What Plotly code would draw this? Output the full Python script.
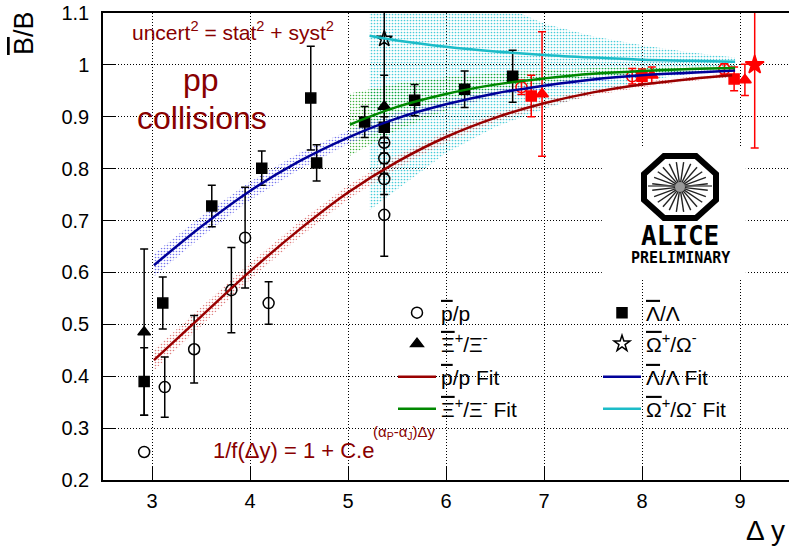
import plotly.graph_objects as go
import math

# ---------------- data ----------------
# black points (pp)
pbar_x = [2.92, 3.13, 3.43, 3.81, 3.95, 4.19, 5.37, 5.37, 5.37, 5.37]
pbar_y = [0.254, 0.379, 0.452, 0.566, 0.667, 0.541, 0.85, 0.82, 0.78, 0.711]
pbar_e = [0.0, 0.058, 0.065, 0.082, 0.097, 0.041, 0.02, 0.03, 0.03, 0.08]

lam_x = [2.92, 3.11, 3.61, 4.12, 4.62, 4.68, 5.17, 5.37, 5.68, 6.19, 6.68]
lam_y = [0.39, 0.541, 0.728, 0.801, 0.936, 0.811, 0.89, 0.88, 0.932, 0.953, 0.978]
lam_e = [0.065, 0.05, 0.04, 0.033, 0.10, 0.035, 0.03, 0.02, 0.03, 0.035, 0.05]

xi_x = [2.92, 5.37]
xi_y = [0.485, 0.92]
xi_e = [0.16, 0.06]

om_x = [5.37]
om_y = [1.05]
om_e = [0.13]

# red points
rp_x = [6.77, 7.90, 8.84]
rp_y = [0.957, 0.978, 0.992]
rp_e = [0.014, 0.015, 0.01]

rl_x = [6.87, 8.00, 8.94]
rl_y = [0.94, 0.978, 0.973]
rl_e = [0.04, 0.014, 0.023]

rx_x = [6.98, 8.10, 9.05]
rx_y = [0.944, 0.98, 0.971]
rx_e = [0.12, 0.016, 0.03]

ro_x = [9.15]
ro_y = [1.0]
ro_e = [0.16]

# fit curves
pfit_x = [3.02, 3.5, 4.0, 4.5, 5.0, 5.5, 6.0, 6.5, 7.0, 7.5, 8.0, 8.5, 8.92]
pfit_y = [0.431, 0.515, 0.602, 0.682, 0.754, 0.813, 0.861, 0.898, 0.926, 0.947, 0.962, 0.973, 0.980]
pfit_w = [0.020, 0.018, 0.016, 0.015, 0.014, 0.012, 0.010, 0.008, 0.007, 0.006, 0.005, 0.004, 0.004]

lfit_x = [3.02, 3.5, 4.0, 4.5, 5.0, 5.5, 6.0, 6.5, 7.0, 7.5, 8.0, 8.5, 8.95]
lfit_y = [0.614, 0.688, 0.757, 0.814, 0.860, 0.897, 0.924, 0.945, 0.960, 0.972, 0.980, 0.985, 0.989]
lfit_w = [0.022, 0.020, 0.018, 0.016, 0.013, 0.011, 0.009, 0.007, 0.006, 0.005, 0.004, 0.003, 0.003]

xfit_x = [5.02, 5.5, 6.0, 6.5, 7.0, 7.5, 8.0, 8.5, 8.95]
xfit_y = [0.885, 0.919, 0.944, 0.962, 0.974, 0.983, 0.988, 0.992, 0.994]
xfit_w = [0.060, 0.045, 0.032, 0.022, 0.015, 0.011, 0.008, 0.006, 0.005]

ofit_x = [5.22, 5.5, 6.0, 6.5, 7.0, 7.5, 8.0, 8.5, 8.95]
ofit_y = [1.056, 1.047, 1.035, 1.026, 1.019, 1.014, 1.010, 1.008, 1.006]
ofit_hi = [1.25, 1.22, 1.17, 1.12, 1.08, 1.055, 1.038, 1.024, 1.014]
ofit_lo = [0.72, 0.76, 0.83, 0.88, 0.915, 0.945, 0.968, 0.984, 0.996]

x_ticks = [3, 4, 5, 6, 7, 8, 9]
y_ticks = [0.2, 0.3, 0.4, 0.5, 0.6, 0.7, 0.8, 0.9, 1.0, 1.1]
y_ticktext = ["0.2", "0.3", "0.4", "0.5", "0.6", "0.7", "0.8", "0.9", "1", "1.1"]

# ---------------- style ----------------
W, H = 789, 554
ML, MR, MT, MB = 103, 0, 13, 74
PW, PH = W - ML - MR, H - MT - MB
def px(x):
    return (x - ML) / PW
def py(y):
    return (H - MB - y) / PH

C_RED = "#990000"
C_BLUE = "#000099"
C_GREEN = "#008800"
C_CYAN = "#1CBCC8"
C_TXT = "#880000"
FONT = "Liberation Sans, Arial, sans-serif"

def ov(s):
    return f'<span style="text-decoration:overline">{s}</span>'

fig = go.Figure()

def band(x, lo, hi, color, size=3, sol=0.22):
    fig.add_trace(go.Scatter(
        x=list(x) + list(x)[::-1], y=list(hi) + list(lo)[::-1],
        mode="lines", line=dict(width=0), fill="toself",
        fillcolor="rgba(0,0,0,0)",
        fillpattern=dict(shape=".", fgcolor=color, bgcolor="rgba(0,0,0,0)",
                         size=size, solidity=sol, fillmode="replace"),
        showlegend=False, hoverinfo="skip"))

band(ofit_x, ofit_lo, ofit_hi, "rgba(40,195,210,0.85)", sol=0.25)
band(xfit_x, [a - b for a, b in zip(xfit_y, xfit_w)], [a + b for a, b in zip(xfit_y, xfit_w)], "rgba(0,150,0,0.75)")
band(pfit_x, [a - b for a, b in zip(pfit_y, pfit_w)], [a + b for a, b in zip(pfit_y, pfit_w)], "rgba(210,80,80,0.75)")
band(lfit_x, [a - b for a, b in zip(lfit_y, lfit_w)], [a + b for a, b in zip(lfit_y, lfit_w)], "rgba(70,70,230,0.75)")

def pts(x, y, e, sym, color, size, name=None, legend=None, rank=None):
    fig.add_trace(go.Scatter(
        x=x, y=y, mode="markers", name=name or "",
        marker=dict(symbol=sym, color=color, size=size,
                    line=dict(color=color, width=1.5)),
        error_y=dict(type="data", array=e, visible=e is not None, color=color,
                     thickness=1.5, width=4),
        showlegend=name is not None, legend=legend, legendrank=rank))

# red points (no legend)
pts(rp_x, rp_y, rp_e, "circle-open", "#FF0000", 11)
pts(rl_x, rl_y, rl_e, "square", "#FF0000", 10)
pts(rx_x, rx_y, rx_e, "triangle-up", "#FF0000", 11)
pts(ro_x, ro_y, ro_e, "star", "#FF0000", 14)

# black points; first pbar point has no visible error bar
pts(pbar_x[:1], pbar_y[:1], None, "circle-open", "black", 11)
pts(pbar_x[1:], pbar_y[1:], pbar_e[1:], "circle-open", "black", 11, ov("p") + "/p", "legend", 1)
pts(lam_x, lam_y, lam_e, "square", "black", 10, ov("\u039b") + "/\u039b", "legend", 2)
pts(xi_x, xi_y, xi_e, "triangle-up", "black", 11, ov("\u039e") + "<sup>+</sup>/\u039e<sup>-</sup>", "legend2", 1)
pts(om_x, om_y, om_e, "star-open", "black", 12, ov("\u03a9") + "<sup>+</sup>/\u03a9<sup>-</sup>", "legend2", 2)

def fitline(x, y, color, name, legend, rank):
    fig.add_trace(go.Scatter(x=x, y=y, mode="lines", name=name,
                             line=dict(color=color, width=2.5, shape="spline"),
                             legend=legend, legendrank=rank, hoverinfo="skip"))

fitline(pfit_x, pfit_y, C_RED, ov("p") + "/p Fit", "legend3", 1)
fitline(lfit_x, lfit_y, C_BLUE, ov("\u039b") + "/\u039b Fit", "legend3", 2)
fitline(xfit_x, xfit_y, C_GREEN, ov("\u039e") + "<sup>+</sup>/\u039e<sup>-</sup> Fit", "legend4", 1)
fitline(ofit_x, ofit_y, C_CYAN, ov("\u03a9") + "<sup>+</sup>/\u03a9<sup>-</sup> Fit", "legend4", 2)

# ---------------- layout ----------------
def leg(yc):
    return dict(orientation="h", x=px(393), xanchor="left", y=py(yc), yanchor="middle",
                bgcolor="rgba(0,0,0,0)", font=dict(family=FONT, size=21, color="black"),
                entrywidth=152, itemwidth=38, traceorder="normal")

axis_common = dict(showline=True, linecolor="black", linewidth=1.5, mirror=True,
                   ticks="inside", ticklen=13, tickwidth=1, tickcolor="black",
                   showgrid=True, gridcolor="black", gridwidth=1, griddash="1px,2px",
                   zeroline=False, tickfont=dict(family=FONT, size=20, color="black"))

annotations = [
    dict(text="uncert<sup>2</sup> = stat<sup>2</sup> + syst<sup>2</sup>", x=px(233), y=py(31),
         font=dict(size=21, color=C_TXT)),
    dict(text="pp", x=px(201), y=py(80), font=dict(size=32, color=C_TXT)),
    dict(text="collisions", x=px(202), y=py(118), font=dict(size=32, color=C_TXT)),
    dict(text="1/f(\u0394y) = 1 + C.e", x=px(211), y=py(450), xanchor="left",
         font=dict(size=22, color=C_TXT)),
    dict(text="(\u03b1<sub>P</sub>-\u03b1<sub>J</sub>)\u0394y", x=px(371), y=py(432), xanchor="left",
         font=dict(size=15, color=C_TXT)),
    dict(text=ov("B") + "/B", x=px(24), y=py(33), textangle=-90, font=dict(size=27, color="black")),
    dict(text="\u0394 y", x=px(765), y=py(530), font=dict(size=28, color="black")),
    dict(text="<b>ALICE</b>", x=px(680), y=py(236), font=dict(size=26, color="black",
         family="DejaVu Sans Mono, monospace")),
    dict(text="<b>PRELIMINARY</b>", x=px(680), y=py(258), font=dict(size=15, color="black",
         family="DejaVu Sans Mono, monospace")),
]
for a in annotations:
    a.setdefault("xanchor", "center")
    a.update(xref="paper", yref="paper", yanchor="middle", showarrow=False)
    a["font"].setdefault("family", FONT)

shapes = []
# white box behind logo (between grid and traces)
shapes.append(dict(type="rect", xref="x", yref="y", x0=7.59, x1=9.06, y0=0.588, y1=0.84,
                   fillcolor="white", line=dict(width=0), layer="between"))
# octagon
cx, cy = 680, 187
oct_pts = [(664, 156), (696, 156), (716, 174), (716, 200), (696, 218), (664, 218), (644, 200), (644, 174)]
path = "M " + " L ".join(f"{px(a):.5f},{py(b):.5f}" for a, b in oct_pts) + " Z"
shapes.append(dict(type="path", xref="paper", yref="paper", path=path,
                   line=dict(color="black", width=6), fillcolor="white", layer="above"))
for k in range(24):
    ang = math.radians(k * 15 + 7.5)
    r0, rx, ry = 3, 28, 25
    shapes.append(dict(type="line", xref="paper", yref="paper",
                       x0=px(cx + r0 * math.cos(ang)), y0=py(cy + r0 * math.sin(ang)),
                       x1=px(cx + rx * math.cos(ang)), y1=py(cy + ry * math.sin(ang)),
                       line=dict(color="#222", width=1.4), layer="above"))
shapes.append(dict(type="line", xref="paper", yref="paper", x0=px(648), x1=px(712),
                   y0=py(186), y1=py(186), line=dict(color="#555", width=1.5), layer="above"))
shapes.append(dict(type="circle", xref="paper", yref="paper", x0=px(675), x1=px(685),
                   y0=py(182), y1=py(192), fillcolor="#999", line=dict(width=0), layer="above"))

fig.update_layout(
    width=W, height=H, margin=dict(l=ML, r=MR, t=MT, b=MB, autoexpand=False),
    paper_bgcolor="white", plot_bgcolor="white",
    font=dict(family=FONT, color="black"),
    xaxis=dict(range=[2.5, 9.5], tickvals=x_ticks, ticklabelstandoff=2, **axis_common),
    yaxis=dict(range=[0.2, 1.1], tickvals=y_ticks, ticktext=y_ticktext, ticklabelstandoff=8,
               **axis_common),
    legend=leg(313), legend2=leg(344), legend3=leg(377), legend4=leg(409),
    annotations=annotations, shapes=shapes, showlegend=True,
)

fig.write_html("out.html")
